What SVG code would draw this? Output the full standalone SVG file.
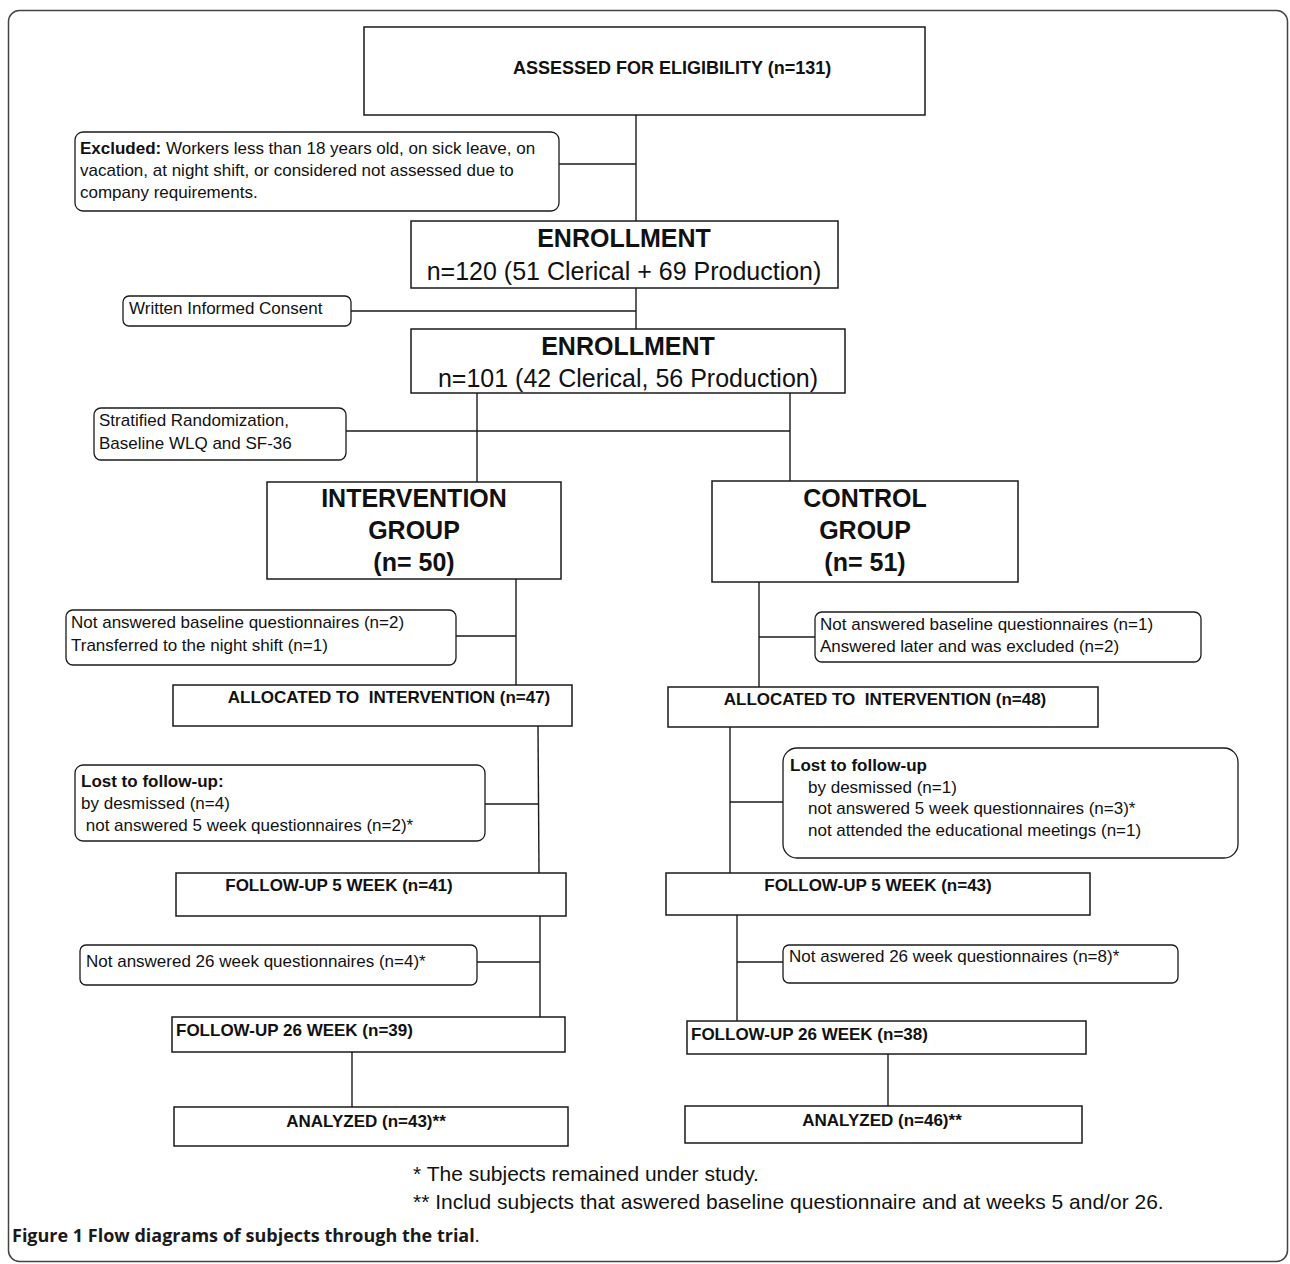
<svg xmlns="http://www.w3.org/2000/svg" width="1290" height="1264" viewBox="0 0 1290 1264">
<style>
.frame{fill:none;stroke:#444;stroke-width:1.5}
.box{fill:#fff;stroke:#1a1a1a;stroke-width:1.5}
.note{fill:#fff;stroke:#1a1a1a;stroke-width:1.3}
.conn line{stroke:#1a1a1a;stroke-width:1.4}
text{font-family:"Liberation Sans",Arial,sans-serif;fill:#111}
.t{font-size:17px}
.b{font-size:17px;font-weight:bold}
.h{font-size:25px;font-weight:bold}
.m{font-size:25px}
.c{text-anchor:middle}
.fn{font-size:21px}
.cap{font-family:"Open Sans","Noto Sans",sans-serif;font-size:18px;font-weight:bold;fill:#1a1a1a}
</style>
<rect width="1290" height="1264" fill="#fff"/>
<rect class="frame" x="8.5" y="10.5" width="1279" height="1251" rx="11"/>
<g class="conn" id="connectors">
<line x1="636" y1="115" x2="636" y2="221"/>
<line x1="559" y1="164" x2="636" y2="164"/>
<line x1="636" y1="288" x2="636" y2="329"/>
<line x1="351" y1="311" x2="636" y2="311"/>
<line x1="477" y1="393" x2="477" y2="482"/>
<line x1="790" y1="393" x2="790" y2="481"/>
<line x1="346" y1="431" x2="790" y2="431"/>
<line x1="516" y1="579" x2="516" y2="685"/>
<line x1="456" y1="636" x2="516" y2="636"/>
<line x1="759" y1="582" x2="759" y2="687"/>
<line x1="759" y1="637" x2="815" y2="637"/>
<line x1="538" y1="726" x2="539" y2="873"/>
<line x1="485" y1="804" x2="538" y2="804"/>
<line x1="730" y1="727" x2="730" y2="873"/>
<line x1="730" y1="802" x2="783" y2="802"/>
<line x1="540" y1="916" x2="540" y2="1017"/>
<line x1="477" y1="962" x2="540" y2="962"/>
<line x1="737" y1="915" x2="737" y2="1021"/>
<line x1="737" y1="962" x2="783" y2="962"/>
<line x1="352" y1="1052" x2="352" y2="1107"/>
<line x1="888" y1="1054" x2="888" y2="1106"/>
</g>
<g id="assessed">
<rect class="box" x="364" y="27" width="561" height="88"/>
<text class="b" x="513" y="74" style="font-size:18px">ASSESSED FOR ELIGIBILITY (n=131)</text>
</g>
<g id="excluded">
<rect class="note" x="75" y="132" width="484" height="79" rx="8"/>
<text class="t" x="80" y="154"><tspan font-weight="bold">Excluded:</tspan> Workers less than 18 years old, on sick leave, on</text>
<text class="t" x="80" y="176">vacation, at night shift, or considered not assessed due to</text>
<text class="t" x="80" y="198">company requirements.</text>
</g>
<g id="enrollment1">
<rect class="box" x="411" y="221" width="427" height="67"/>
<text class="h c" x="624" y="247">ENROLLMENT</text>
<text class="m c" x="624" y="280">n=120 (51 Clerical + 69 Production)</text>
</g>
<g id="consent">
<rect class="note" x="123" y="296" width="228" height="30" rx="6"/>
<text class="t" x="129" y="314">Written Informed Consent</text>
</g>
<g id="enrollment2">
<rect class="box" x="411" y="329" width="434" height="64"/>
<text class="h c" x="628" y="355">ENROLLMENT</text>
<text class="m c" x="628" y="387">n=101 (42 Clerical, 56 Production)</text>
</g>
<g id="randomization">
<rect class="note" x="94" y="408" width="252" height="52" rx="7"/>
<text class="t" x="99" y="426">Stratified Randomization,</text>
<text class="t" x="99" y="449">Baseline WLQ and SF-36</text>
</g>
<g id="intervention-group">
<rect class="box" x="267" y="482" width="294" height="97"/>
<text class="h c" x="414" y="507">INTERVENTION</text>
<text class="h c" x="414" y="539">GROUP</text>
<text class="h c" x="414" y="571">(n= 50)</text>
</g>
<g id="control-group">
<rect class="box" x="712" y="481" width="306" height="101"/>
<text class="h c" x="865" y="507">CONTROL</text>
<text class="h c" x="865" y="539">GROUP</text>
<text class="h c" x="865" y="571">(n= 51)</text>
</g>
<g id="excl-int">
<rect class="note" x="66" y="610" width="390" height="55" rx="7"/>
<text class="t" x="71" y="628">Not answered baseline questionnaires (n=2)</text>
<text class="t" x="71" y="651">Transferred to the night shift (n=1)</text>
</g>
<g id="excl-ctl">
<rect class="note" x="815" y="612" width="386" height="50" rx="7"/>
<text class="t" x="820" y="630">Not answered baseline questionnaires (n=1)</text>
<text class="t" x="820" y="652">Answered later and was excluded (n=2)</text>
</g>
<g id="alloc-int">
<rect class="box" x="173" y="685" width="399" height="41"/>
<text class="b c" x="389" y="703" xml:space="preserve">ALLOCATED TO  INTERVENTION (n=47)</text>
</g>
<g id="alloc-ctl">
<rect class="box" x="668" y="687" width="430" height="40"/>
<text class="b c" x="885" y="705" xml:space="preserve">ALLOCATED TO  INTERVENTION (n=48)</text>
</g>
<g id="lost-int">
<rect class="note" x="75" y="765" width="410" height="76" rx="8"/>
<text class="b" x="81" y="787">Lost to follow-up:</text>
<text class="t" x="81" y="809">by desmissed (n=4)</text>
<text class="t" x="81" y="831" xml:space="preserve"> not answered 5 week questionnaires (n=2)*</text>
</g>
<g id="lost-ctl">
<rect class="note" x="783" y="748" width="455" height="110" rx="14"/>
<text class="b" x="790" y="771">Lost to follow-up</text>
<text class="t" x="808" y="793">by desmissed (n=1)</text>
<text class="t" x="808" y="814">not answered 5 week questionnaires (n=3)*</text>
<text class="t" x="808" y="836">not attended the educational meetings (n=1)</text>
</g>
<g id="fu5-int">
<rect class="box" x="176" y="873" width="390" height="43"/>
<text class="b c" x="339" y="891">FOLLOW-UP 5 WEEK (n=41)</text>
</g>
<g id="fu5-ctl">
<rect class="box" x="666" y="873" width="424" height="42"/>
<text class="b c" x="878" y="891">FOLLOW-UP 5 WEEK (n=43)</text>
</g>
<g id="na26-int">
<rect class="note" x="80" y="945" width="397" height="40" rx="6"/>
<text class="t" x="86" y="967">Not answered 26 week questionnaires (n=4)*</text>
</g>
<g id="na26-ctl">
<rect class="note" x="783" y="945" width="395" height="38" rx="6"/>
<text class="t" x="789" y="962">Not aswered 26 week questionnaires (n=8)*</text>
</g>
<g id="fu26-int">
<rect class="box" x="172" y="1017" width="393" height="35"/>
<text class="b" x="176" y="1036">FOLLOW-UP 26 WEEK (n=39)</text>
</g>
<g id="fu26-ctl">
<rect class="box" x="687" y="1021" width="399" height="33"/>
<text class="b" x="691" y="1040">FOLLOW-UP 26 WEEK (n=38)</text>
</g>
<g id="analyzed-int">
<rect class="box" x="174" y="1107" width="394" height="39"/>
<text class="b c" x="366" y="1127">ANALYZED (n=43)**</text>
</g>
<g id="analyzed-ctl">
<rect class="box" x="685" y="1106" width="397" height="37"/>
<text class="b c" x="882" y="1126">ANALYZED (n=46)**</text>
</g>
<g id="footnotes">
<text class="fn" x="413" y="1181">* The subjects remained under study.</text>
<text class="fn" x="413" y="1209">** Includ subjects that aswered baseline questionnaire and at weeks 5 and/or 26.</text>
</g>
<g id="caption">
<text class="cap" x="12" y="1242">Figure 1 Flow diagrams of subjects through the trial<tspan font-weight="normal">.</tspan></text>
</g>
</svg>
